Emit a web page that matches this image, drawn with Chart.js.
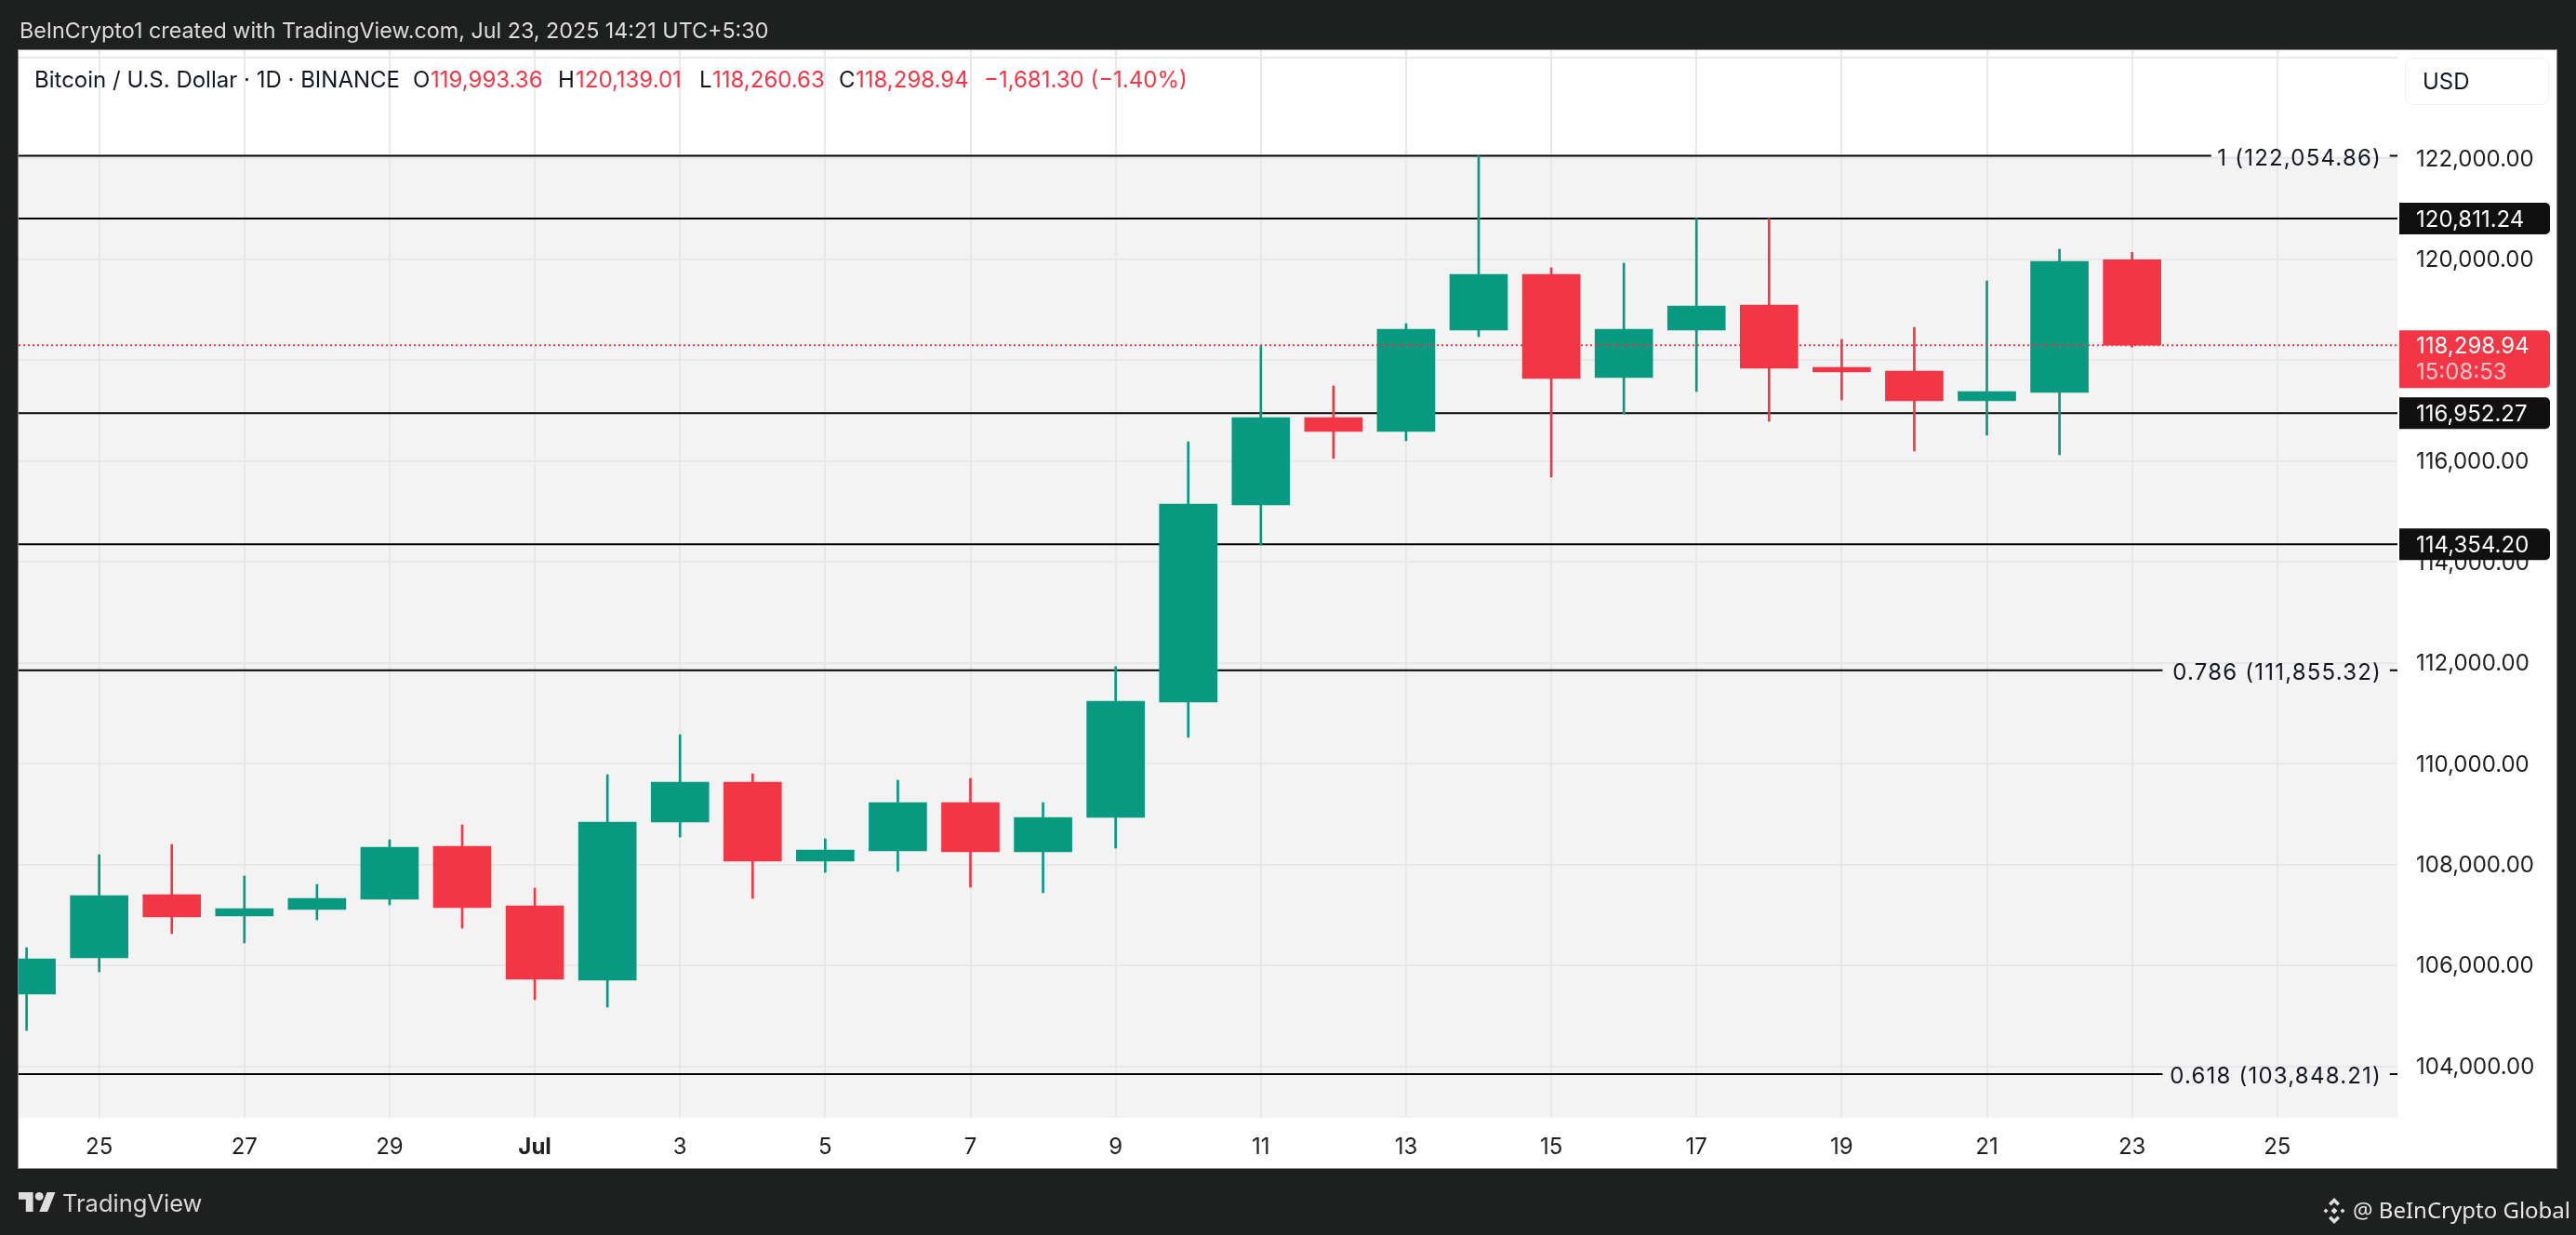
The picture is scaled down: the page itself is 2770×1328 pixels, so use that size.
<!DOCTYPE html>
<html lang="en">
<head>
<meta charset="UTF-8">
<title>Bitcoin / U.S. Dollar 1D</title>
<script src="https://cdn.jsdelivr.net/npm/chart.js"></script>
<style>
  html, body {
    margin: 0;
    padding: 0;
    width: 2770px;
    height: 1328px;
    overflow: hidden;
    background-color: #1e201f;
    font-family: Inter, sans-serif;
  }
  #panel {
    position: absolute;
    left: 20px;
    top: 54px;
    width: 2729px;
    height: 1202px;
    background-color: #fff;
    outline: 1px solid #8a8a8a;
  }
  #chart {
    position: absolute;
    left: 0;
    top: 0;
  }
  .txt {
    position: absolute;
    white-space: nowrap;
    line-height: 30px;
    font-size: 24px;
  }
  #created { left: 21px; top: 18px; color: #dcdcdc; font-size: 23.300px; }
  #legend span { position: absolute; top: 71px; white-space: nowrap; line-height: 30px; font-size: 24px; color: #131722; }
  #legend .down { color: #f23645; }
  #usd {
    position: absolute;
    left: 2586px;
    top: 62px;
    width: 155px;
    height: 51px;
    box-sizing: border-box;
    border: 1px solid #f0f0f0;
    border-radius: 8px;
    padding-left: 18px;
    line-height: 49px;
    font-size: 24px;
    color: #131722;
  }
  #brand { left: 67px; top: 1279px; color: #d8d8d8; font-size: 25.500px; }
  #credit { left: 2530px; top: 1286px; color: #e6e6e6; font-family: "Noto Sans", sans-serif; font-size: 24px; }
  svg { position: absolute; }
</style>
</head>
<body>
<div id="panel"></div>
<canvas id="chart" width="2770" height="1328"></canvas>

<div class="txt" id="created">BeInCrypto1 created with TradingView.com, Jul 23, 2025 14:21 UTC+5:30</div>
<div id="legend">
  <span style="left:37px">Bitcoin / U.S. Dollar · 1D · BINANCE</span>
  <span style="left:444px">O</span><span class="down" style="left:463px">119,993.36</span>
  <span style="left:600px">H</span><span class="down" style="left:619px">120,139.01</span>
  <span style="left:752px">L</span><span class="down" style="left:766px">118,260.63</span>
  <span style="left:902px">C</span><span class="down" style="left:920px">118,298.94</span>
  <span class="down" style="left:1058px">−1,681.30 (−1.40%)</span>
</div>
<div id="usd">USD</div>

<svg style="left:20px;top:1282px" width="40" height="21" viewBox="0 4 36 19" preserveAspectRatio="none">
  <path fill="#dedede" d="M14 23H7V11H0V4h14v19zM28 23h-8l7.5-19h8L28 23z"/>
  <circle fill="#dedede" cx="20" cy="8" r="4"/>
</svg>
<div class="txt" id="brand">TradingView</div>
<svg style="left:2496px;top:1288px" width="28" height="28" viewBox="0 0 28 28">
  <path fill="#dedede" d="M14 0l6 6-2.500 2.500L14 5l-3.500 3.500L8 6zM5 11.500l2.500 2.500L5 16.500 2.500 14zM23 11.500l2.500 2.500-2.500 2.500-2.500-2.500zM14 10.500l3.500 3.500-3.500 3.500-3.500-3.500zM8 22l2.500-2.500L14 23l3.500-3.500L20 22l-6 6z"/>
</svg>
<div class="txt" id="credit">@ BeInCrypto Global</div>

<script>
  // Daily candles, Jun 24 to Jul 23 (index 0 = Jun 24)
  var opens = [105433, 106153, 107406, 106982, 107111, 107314, 108365, 107185, 105710, 108844,
    109637, 108070, 108273, 109232, 108254, 108937, 111223, 115132, 116865, 116588,
    118598, 119704, 117658, 118598, 119096, 117861, 117787, 117197, 117363, 119993.36];
  var highs = [106355, 108199, 108402, 107775, 107609, 108494, 108789, 107535, 109785, 110578,
    109803, 108512, 109674, 109711, 109232, 111924, 116386, 118285, 117492, 118727,
    122054.86, 119834, 119926, 120811.24, 120811.24, 118414, 118654, 119575, 120202, 120139.01];
  var lows = [104714, 105876, 106632, 106448, 106908, 107203, 106743, 105323, 105175, 108549,
    107333, 107849, 107867, 107554, 107443, 108328, 110522, 114339, 116054, 116404,
    118469, 115685, 116939, 117381, 116791, 117215, 116201, 116515, 116127, 118260.63];
  var closes = [106134, 107388, 106964, 107130, 107333, 108347, 107148, 105728, 108844, 109637,
    108070, 108291, 109232, 108254, 108937, 111241, 115150, 116865, 116588, 118617,
    119704, 117639, 118617, 119078, 117842, 117768, 117197, 117381, 119963, 118298.94];

  // x axis ticks, same index as the candles
  var tickDays = [1, 3, 5, 7, 9, 11, 13, 15, 17, 19, 21, 23, 25, 27, 29, 31];
  var tickLabels = ['25', '27', '29', 'Jul', '3', '5', '7', '9', '11', '13', '15', '17', '19', '21', '23', '25'];
  var priceTicks = [104000, 106000, 108000, 110000, 112000, 114000, 116000, 118000, 120000, 122000, 124000];

  // horizontal levels
  var fibLevels = [122054.86, 111855.32, 103848.21];
  var fibNames = ['1', '0.786', '0.618'];
  var fibGapStart = [30.09, 29.42, 29.42];
  var plainLevels = [120811.24, 116952.27, 114354.20];
  var lastPrice = 118298.94;
  var countdown = '15:08:53';

  var xMin = -0.11, xMax = 32.655, yMin = 102981, yMax = 124148;
  var gapEnd = 32.55;
  var GREEN = '#089981', RED = '#f23645';

  var candleColors = closes.map(function (c, i) { return c >= opens[i] ? GREEN : RED; });
  var font = 'Inter, sans-serif';

  function money(v) {
    return v.toLocaleString('en-US', { minimumFractionDigits: 2, maximumFractionDigits: 2 });
  }

  var datasets = [];

  plainLevels.forEach(function (v) {
    datasets.push({
      type: 'line', order: 3, borderColor: '#000', borderWidth: 2, pointRadius: 0,
      data: [{ x: xMin, y: v }, { x: xMax, y: v }]
    });
  });
  fibLevels.forEach(function (v, i) {
    datasets.push({
      type: 'line', order: 3, borderColor: '#000', borderWidth: 2, pointRadius: 0, spanGaps: false,
      data: [{ x: xMin, y: v }, { x: fibGapStart[i], y: v }, { x: fibGapStart[i], y: null }, { x: gapEnd, y: v }, { x: xMax, y: v }]
    });
  });
  datasets.push({
    type: 'bar', order: 2, grouped: false, barThickness: 2, backgroundColor: candleColors,
    data: highs.map(function (h, i) { return { x: i, y: [lows[i], h] }; })
  });
  datasets.push({
    type: 'bar', order: 1, grouped: false, barThickness: 62, backgroundColor: candleColors,
    data: opens.map(function (o, i) { return { x: i, y: [o, closes[i]] }; })
  });
  datasets.push({
    type: 'line', order: 0, borderColor: RED, borderWidth: 2, borderDash: [2, 3], pointRadius: 0,
    data: [{ x: xMin, y: lastPrice }, { x: xMax, y: lastPrice }]
  });

  function drawTag(ctx, y, h, color) {
    ctx.fillStyle = color;
    ctx.beginPath();
    ctx.roundRect(2580, y, 162, h, [0, 5, 5, 0]);
    ctx.fill();
  }

  // shaded band and price tags
  var overlays = {
    id: 'overlays',
    beforeDraw: function (chart) {
      var ctx = chart.ctx, a = chart.chartArea;
      var top = chart.scales.y.getPixelForValue(fibLevels[0]);
      ctx.fillStyle = '#f3f3f3';
      ctx.fillRect(a.left, top, a.right - a.left, a.bottom - top);
    },
    afterDraw: function (chart) {
      var ctx = chart.ctx, y = chart.scales.y;
      ctx.save();
      ctx.font = '24px ' + font;
      ctx.textBaseline = 'middle';

      ctx.letterSpacing = '1.200px';
      fibLevels.forEach(function (v, i) {
        ctx.textAlign = 'right';
        ctx.fillStyle = '#131722';
        ctx.fillText(fibNames[i] + ' (' + money(v) + ')', 2561, y.getPixelForValue(v) + 3);
      });
      ctx.letterSpacing = '0px';

      ctx.textAlign = 'left';
      plainLevels.forEach(function (v) {
        var py = y.getPixelForValue(v);
        drawTag(ctx, py - 17, 34, '#101010');
        ctx.fillStyle = '#fff';
        ctx.fillText(money(v), 2598, py + 2);
      });

      var p = y.getPixelForValue(lastPrice);
      drawTag(ctx, p - 16, 62, RED);
      ctx.fillStyle = '#fff';
      ctx.fillText(money(lastPrice), 2598, p + 2);
      ctx.fillStyle = 'rgba(255,255,255,0.7)';
      ctx.fillText(countdown, 2598, p + 30);
      ctx.restore();
    }
  };

  new Chart(document.getElementById('chart').getContext('2d'), {
    data: { datasets: datasets },
    plugins: [overlays],
    options: {
      responsive: false,
      animation: false,
      devicePixelRatio: 1,
      layout: { padding: { left: 20, top: 54, right: 20, bottom: 71 } },
      plugins: { legend: { display: false }, tooltip: { enabled: false } },
      scales: {
        x: {
          type: 'linear',
          offset: false,
          min: xMin,
          max: xMax,
          afterFit: function (s) { s.height = 55; },
          afterBuildTicks: function (s) {
            s.ticks = tickDays.map(function (d) { return { value: d }; });
          },
          grid: { offset: false, color: '#e8e8e8', lineWidth: 2, drawTicks: false },
          border: { display: false },
          ticks: {
            autoSkip: false,
            maxRotation: 0,
            padding: 17,
            color: '#1f1f1f',
            font: function (c) {
              return { family: font, size: 24, weight: c.tick && c.tick.value === 7 ? 'bold' : 'normal' };
            },
            callback: function (v) { return tickLabels[tickDays.indexOf(v)]; }
          }
        },
        y: {
          position: 'right',
          min: yMin,
          max: yMax,
          afterFit: function (s) { s.width = 172; },
          afterBuildTicks: function (s) {
            s.ticks = priceTicks.map(function (v) { return { value: v }; });
          },
          grid: { color: '#e8e8e8', lineWidth: 2, drawTicks: false },
          border: { display: false },
          ticks: {
            autoSkip: false,
            padding: 20,
            labelOffset: 1,
            color: '#1f1f1f',
            font: { family: font, size: 24 },
            callback: function (v) { return v === 124000 ? '' : money(v); }
          }
        }
      }
    }
  });
</script>
</body>
</html>
